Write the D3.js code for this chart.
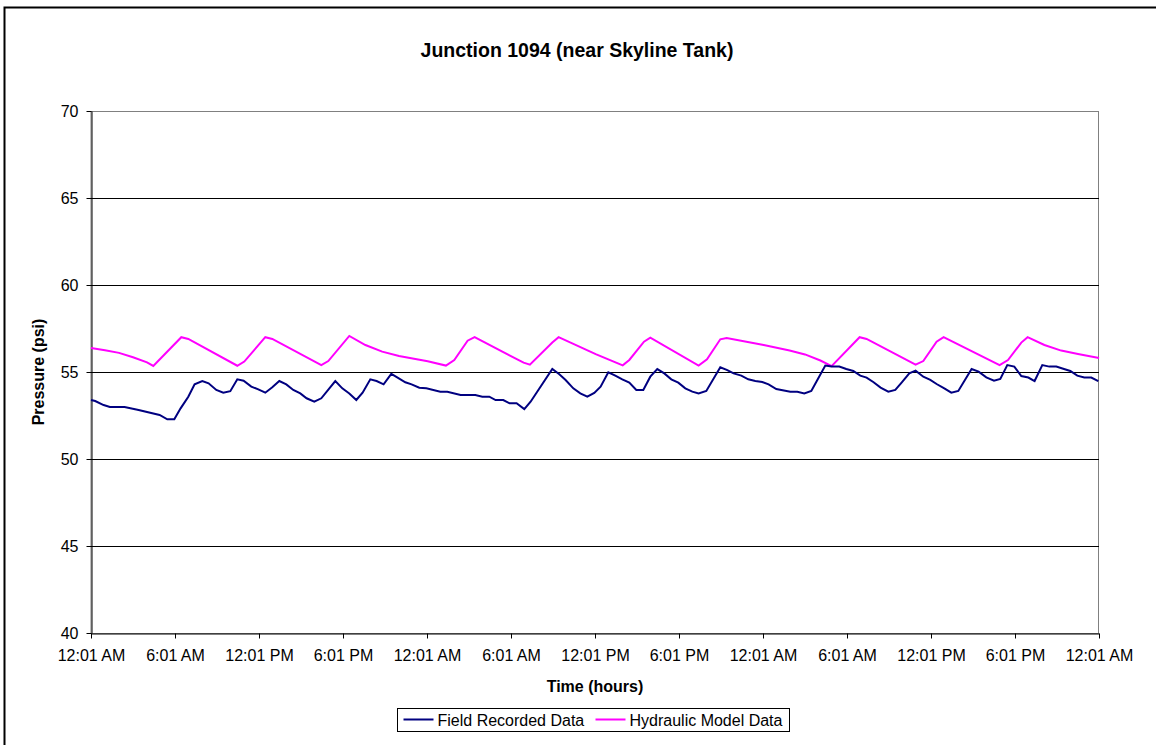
<!DOCTYPE html>
<html>
<head>
<meta charset="utf-8">
<script src="https://cdn.jsdelivr.net/npm/d3@7"></script>
<style>
	body { margin: 0; background: #fff; }
	svg { display: block; font-family: 'Liberation Sans', Arial, sans-serif; }
</style>
</head>
<body>
<div id="canvas"></div>
<script>
// hours after 12:01 AM, pressure in psi
const fieldHours = [0, 0.3, 0.9, 1.35, 2.4, 3.4, 4.9, 5.45, 5.95, 6.4, 6.95, 7.4, 7.95, 8.4, 8.95, 9.45, 9.95, 10.45, 10.9, 11.45, 11.95,
	12.45, 12.95, 13.45, 13.95, 14.45, 14.95, 15.4, 15.95, 16.45, 17.45, 17.95, 18.45, 18.95, 19.4, 19.95, 20.4, 20.9, 21.45, 21.9, 22.45, 22.9, 23.45, 23.95,
	24.45, 24.95, 25.45, 26.4, 27.45, 27.95, 28.45, 28.9, 29.45, 29.9, 30.4, 30.95, 31.4, 32.95, 33.45, 33.9, 34.45, 34.95, 35.45, 35.95,
	36.4, 36.95, 37.45, 37.95, 38.45, 38.95, 39.45, 39.95, 40.45, 40.95, 41.45, 41.95, 42.45, 42.95, 43.4, 43.95, 44.95, 45.45, 45.9, 46.45, 46.95, 47.45, 47.95,
	48.4, 48.95, 49.95, 50.45, 50.95, 51.45, 51.95, 52.45, 52.9, 53.45, 53.95, 54.45, 54.95, 55.4, 55.9, 56.4, 56.95, 57.45, 57.9, 58.45, 58.9, 59.45, 59.95,
	60.4, 60.95, 61.45, 61.95, 62.9, 63.4, 63.95, 64.5, 64.95, 65.45, 65.95, 66.45, 66.95, 67.4, 67.95, 68.45, 68.95, 69.5, 69.95, 70.45, 70.95, 71.45, 71.95];
const fieldPsi = [53.39, 53.33, 53.1, 52.99, 52.99, 52.82, 52.53, 52.28, 52.28, 52.91, 53.58, 54.29, 54.48, 54.35, 53.97, 53.81, 53.9, 54.58, 54.5, 54.16, 54.0,
	53.81, 54.12, 54.48, 54.29, 53.97, 53.77, 53.49, 53.29, 53.49, 54.48, 54.06, 53.77, 53.39, 53.81, 54.58, 54.48, 54.29, 54.89, 54.68, 54.41, 54.29, 54.1, 54.06,
	53.97, 53.87, 53.87, 53.68, 53.68, 53.58, 53.58, 53.39, 53.39, 53.2, 53.2, 52.87, 53.29, 55.17, 54.87, 54.54, 54.06, 53.77, 53.58, 53.8,
	54.16, 54.98, 54.79, 54.58, 54.39, 53.97, 53.97, 54.73, 55.17, 54.92, 54.58, 54.39, 54.06, 53.87, 53.77, 53.91, 55.27, 55.11, 54.92, 54.79, 54.58, 54.48, 54.42,
	54.29, 54.02, 53.87, 53.87, 53.77, 53.91, 54.64, 55.37, 55.31, 55.31, 55.17, 55.06, 54.79, 54.68, 54.41, 54.1, 53.87, 53.97, 54.39, 54.92, 55.08, 54.73, 54.55,
	54.31, 54.06, 53.81, 53.91, 55.17, 55.02, 54.69, 54.5, 54.6, 55.4, 55.31, 54.77, 54.68, 54.48, 55.4, 55.31, 55.31, 55.17, 55.06, 54.79, 54.68, 54.68, 54.48];

const modelHours = [0, 1, 2, 3, 4, 4.45, 6.45, 6.95, 10.45, 10.95, 12.45, 12.95, 16.45, 16.95, 18.45, 19.6, 20.8, 22, 24.05,
	25.35, 25.95, 26.9, 27.4, 30.9, 31.35, 32.95, 33.4, 36.05, 37.98, 38.45, 39.5, 39.95, 43.4, 44, 44.95, 45.4, 48.05,
	49.9, 51, 52.1, 52.9, 54.9, 55.4, 58.9, 59.45, 60.4, 60.9, 64.9, 65.5, 66.45, 66.9, 68.1, 69.3, 70.5, 72];
const modelPsi = [56.38, 56.25, 56.1, 55.85, 55.55, 55.35, 57.0, 56.9, 55.36, 55.6, 57.0, 56.9, 55.4, 55.63, 57.07, 56.55, 56.17, 55.92, 55.62,
	55.37, 55.69, 56.8, 57.0, 55.54, 55.42, 56.7, 57.0, 56.03, 55.38, 55.69, 56.74, 56.97, 55.37, 55.73, 56.88, 56.95, 56.55,
	56.23, 56.01, 55.66, 55.34, 57.0, 56.9, 55.42, 55.63, 56.74, 57.0, 55.4, 55.69, 56.69, 57.0, 56.55, 56.23, 56.03, 55.8];

const tickHours = [0, 6, 12, 18, 24, 30, 36, 42, 48, 54, 60, 66, 72];
const tickLabels = ['12:01 AM', '6:01 AM', '12:01 PM', '6:01 PM', '12:01 AM', '6:01 AM', '12:01 PM', '6:01 PM', '12:01 AM', '6:01 AM', '12:01 PM', '6:01 PM', '12:01 AM'];
const psiTicks = [40, 45, 50, 55, 60, 65, 70];

const seriesNames = ['Field Recorded Data', 'Hydraulic Model Data'];
const seriesColors = ['#000080', '#ff00ff'];

const w = 1156;
const h = 745;
const plot = { left: 91, right: 1099, top: 111, bottom: 633 };

const svg = d3.select('#canvas')
							.append('svg')
							.attr('width', w)
							.attr('height', h);

// outer chart frame
svg.append('rect')
		.attr('x', 4.5)
		.attr('y', 7.5)
		.attr('width', w + 10)
		.attr('height', h + 10)
		.attr('fill', '#fff')
		.attr('stroke', '#000')
		.attr('stroke-width', 2);

const x = d3.scaleLinear().domain([0, 72]).range([plot.left, plot.right]);
const y = d3.scaleLinear().domain([40, 70]).range([plot.bottom, plot.top]);

// plot area border (grey)
svg.append('rect')
		.attr('x', plot.left)
		.attr('y', plot.top + 0.5)
		.attr('width', plot.right - plot.left - 0.5)
		.attr('height', plot.bottom - plot.top)
		.attr('fill', 'none')
		.attr('stroke', '#808080')
		.attr('stroke-width', 1);

// gridlines
svg.append('g')
		.selectAll('line')
		.data(psiTicks.filter(d => d > 40 && d < 70))
		.enter()
		.append('line')
		.attr('x1', plot.left)
		.attr('x2', plot.right)
		.attr('y1', d => Math.round(y(d)) + 0.5)
		.attr('y2', d => Math.round(y(d)) + 0.5)
		.attr('stroke', '#000')
		.attr('stroke-width', 1);

const yAxis = d3.axisLeft(y)
								.tickValues(psiTicks)
								.tickSize(5)
								.tickPadding(8)
								.tickSizeOuter(0);

const xAxis = d3.axisBottom(x)
								.tickValues(tickHours)
								.tickFormat((d, i) => tickLabels[i])
								.tickSize(5)
								.tickPadding(11)
								.tickSizeOuter(0);

const gy = svg.append('g')
		.attr('transform', 'translate(' + (plot.left + 0.5) + ', 0)')
		.call(yAxis);

const gx = svg.append('g')
		.attr('transform', 'translate(0, ' + (plot.bottom + 0.5) + ')')
		.call(xAxis);

[gx, gy].forEach(g => {
	g.selectAll('path, line').attr('stroke', '#000');
	g.selectAll('text')
		.attr('fill', '#000')
		.style('font-size', '16px');
});

const fieldLine = d3.line()
										.x((d, i) => x(fieldHours[i]))
										.y(d => y(d));
const modelLine = d3.line()
										.x((d, i) => x(modelHours[i]))
										.y(d => y(d));

svg.append('path')
		.datum(modelPsi)
		.attr('d', modelLine)
		.attr('fill', 'none')
		.attr('stroke', seriesColors[1])
		.attr('stroke-width', 2);

svg.append('path')
		.datum(fieldPsi)
		.attr('d', fieldLine)
		.attr('fill', 'none')
		.attr('stroke', seriesColors[0])
		.attr('stroke-width', 2);

svg.append('text')
		.attr('x', 577)
		.attr('y', 57)
		.style('text-anchor', 'middle')
		.style('font-weight', 'bold')
		.style('font-size', '19.5px')
		.text('Junction 1094 (near Skyline Tank)');

svg.append('text')
		.attr('x', (plot.left + plot.right) / 2)
		.attr('y', 692)
		.style('text-anchor', 'middle')
		.style('font-weight', 'bold')
		.style('font-size', '16px')
		.text('Time (hours)');

svg.append('text')
		.attr('transform', 'translate(44, ' + ((plot.top + plot.bottom) / 2) + ') rotate(-90)')
		.style('text-anchor', 'middle')
		.style('font-weight', 'bold')
		.style('font-size', '16px')
		.text('Pressure (psi)');

// legend
const legend = svg.append('g')
		.attr('transform', 'translate(397.5, 708.5)');

legend.append('rect')
		.attr('width', 392)
		.attr('height', 23)
		.attr('fill', '#fff')
		.attr('stroke', '#000')
		.attr('stroke-width', 1);

const legendX = [6, 198];
const item = legend.selectAll('g.item')
		.data(seriesNames)
		.enter()
		.append('g')
		.attr('class', 'item')
		.attr('transform', (d, i) => 'translate(' + legendX[i] + ', 0)');

item.append('line')
		.attr('x1', 0)
		.attr('x2', 30)
		.attr('y1', 11)
		.attr('y2', 11)
		.attr('stroke', (d, i) => seriesColors[i])
		.attr('stroke-width', 2);

item.append('text')
		.attr('x', 34)
		.attr('y', 17)
		.style('font-size', '16px')
		.text(d => d);
</script>
</body>
</html>
